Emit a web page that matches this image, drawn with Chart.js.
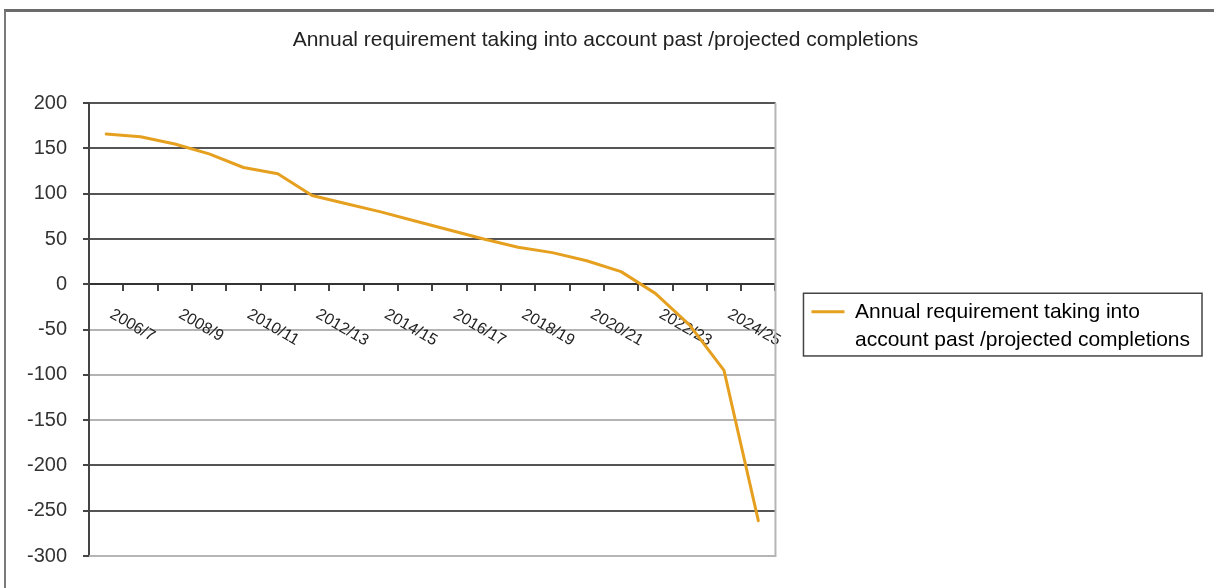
<!DOCTYPE html>
<html>
<head>
<meta charset="utf-8">
<title>Annual requirement</title>
<script src="https://cdn.jsdelivr.net/npm/chart.js@4.4.1/dist/chart.umd.min.js"></script>
<style>
  html, body { margin: 0; padding: 0; background: #fff; overflow: hidden; }
  #wrap { position: relative; width: 1214px; height: 588px; }
  #frame { position: absolute; left: 4px; top: 9px; right: -10px; bottom: -10px;
           border-top: 3px solid #6b6b6b; border-left: 2px solid #7a7a7a; pointer-events: none; }
</style>
</head>
<body>
<div id="wrap">
  <canvas id="reqChart"></canvas>
  <div id="frame"></div>
</div>
<script>
// chart data
const chartTitle = 'Annual requirement taking into account past /projected completions';
const seriesName = ['Annual requirement taking into', 'account past /projected completions'];

const years = ['2006/7', '2007/8', '2008/9', '2009/10', '2010/11', '2011/12', '2012/13',
  '2013/14', '2014/15', '2015/16', '2016/17', '2017/18', '2018/19', '2019/20',
  '2020/21', '2021/22', '2022/23', '2023/24', '2024/25', '2025/26'];

const requirement = [166, 163, 155, 144, 129, 122, 98, 89, 80, 70,
  60, 50, 41, 35, 26, 14, -10, -45, -95, -261];

const yMin = -300;
const yMax = 200;
const yStep = 50;

const lineColor = '#e6a020';
const fontFamily = '"Liberation Sans", Arial, sans-serif';

// x labels are drawn slanted down to the right (every other year), under the zero line
const slantLabels = {
  id: 'slantLabels',
  beforeDatasetsDraw(chart) {
    const ctx = chart.ctx;
    const x = chart.scales.x;
    const zeroY = chart.scales.y.getPixelForValue(0);
    ctx.save();
    ctx.font = '16px ' + fontFamily;
    ctx.fillStyle = '#222';
    ctx.textAlign = 'left';
    ctx.textBaseline = 'top';
    years.forEach((lbl, i) => {
      if (i % 2 !== 0) return;
      const px = x.getPixelForValue(i);
      ctx.save();
      ctx.translate(px + 9, zeroY + 22);
      ctx.rotate(Math.PI / 6);
      ctx.fillText(lbl, 0, 0);
      ctx.restore();
    });
    ctx.restore();
  }
};

// light plot-area frame and box round the legend
const frames = {
  id: 'frames',
  beforeDatasetsDraw(chart) {
    const a = chart.chartArea;
    const ctx = chart.ctx;
    ctx.save();
    ctx.strokeStyle = '#b5b5b5';
    ctx.lineWidth = 2;
    ctx.beginPath();
    ctx.moveTo(a.right, a.top);
    ctx.lineTo(a.right, a.bottom);
    ctx.lineTo(a.left, a.bottom);
    ctx.stroke();
    ctx.restore();
  },
  afterDraw(chart) {
    const hb = chart.legend.legendHitBoxes[0];
    if (!hb) return;
    const ctx = chart.ctx;
    ctx.save();
    ctx.strokeStyle = '#444';
    ctx.lineWidth = 1.5;
    ctx.strokeRect(hb.left - 8, hb.top - 8, hb.width + 20, hb.height + 6);
    ctx.restore();
  }
};

new Chart(document.getElementById('reqChart'), {
  type: 'line',
  data: {
    labels: years,
    datasets: [{
      label: chartTitle,
      data: requirement,
      borderColor: lineColor,
      backgroundColor: lineColor,
      borderWidth: 3,
      tension: 0,
      pointRadius: 0,
      borderJoinStyle: 'round',
      borderCapStyle: 'round'
    }]
  },
  options: {
    responsive: true,
    maintainAspectRatio: false,
    animation: false,
    layout: { padding: { top: 12, left: 11, right: 14, bottom: 32 } },
    plugins: {
      title: {
        display: true,
        text: chartTitle,
        color: '#222',
        font: { family: fontFamily, size: 21, weight: 'normal' },
        padding: { top: 16, bottom: 50 }
      },
      legend: {
        position: 'right',
        fullSize: false,
        maxWidth: 600,
        labels: {
          boxWidth: 33,
          boxHeight: 0,
          padding: 36,
          color: '#222',
          font: { family: fontFamily, size: 21, lineHeight: 1.35 },
          generateLabels: chart => chart.data.datasets.map((ds, i) => ({
            text: seriesName,
            fillStyle: ds.borderColor,
            strokeStyle: ds.borderColor,
            lineWidth: 3,
            hidden: false,
            datasetIndex: i
          }))
        }
      },
      tooltip: { enabled: false }
    },
    scales: {
      x: {
        type: 'category',
        offset: true,
        position: { y: 0 },
        grid: { offset: true, drawOnChartArea: false, drawTicks: true, tickLength: 6, color: '#444', lineWidth: 2 },
        border: { display: true, color: '#333', width: 2 },
        ticks: { display: false }
      },
      y: {
        min: yMin,
        max: yMax,
        ticks: {
          stepSize: yStep,
          color: '#333',
          padding: 16,
          font: { family: fontFamily, size: 20 }
        },
        grid: {
          color: c => ((c.tick && c.tick.value <= -50 && c.tick.value >= -150) || (c.tick && c.tick.value === -300)) ? '#b3b3b3' : '#555',
          tickColor: '#444',
          lineWidth: 2,
          tickLength: 6
        },
        border: { display: true, color: '#444', width: 2 }
      }
    }
  },
  plugins: [slantLabels, frames]
});
</script>
</body>
</html>
